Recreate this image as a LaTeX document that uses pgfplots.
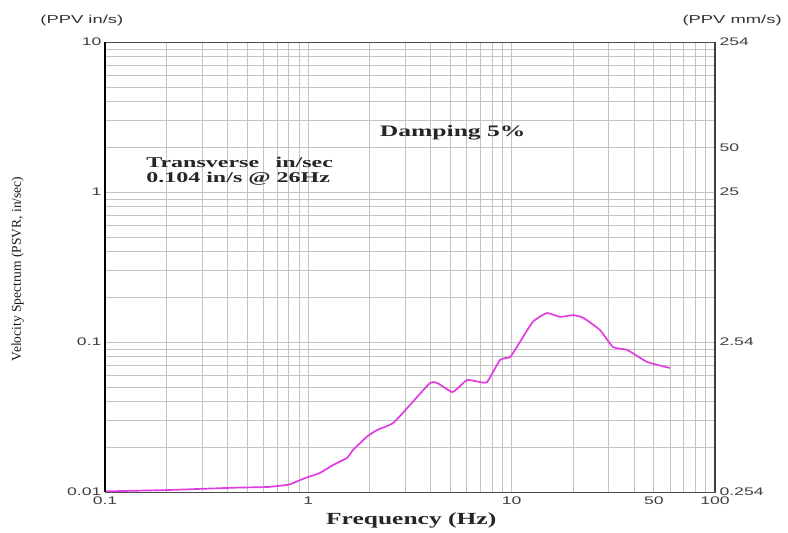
\documentclass[border=0pt]{standalone}
\usepackage{fontspec}
\usepackage{pgfplots}
\pgfplotsset{compat=1.18}
\setmainfont{Liberation Serif}
\newfontfamily\tsans[FakeStretch=1.6]{Liberation Sans}
\newfontfamily\tserif[FakeStretch=1.6]{Liberation Serif}
\newfontfamily\tserifb[FakeStretch=1.5]{Liberation Serif}
\definecolor{curve}{RGB}{225,60,225}
\definecolor{gridc}{RGB}{195,195,195}

\begin{document}
\begin{tikzpicture}
\begin{axis}[name=main,
    scale only axis, width=610pt, height=450pt,
    xmode=log, ymode=log,
    xmin=0.1, xmax=100, ymin=0.01, ymax=10,
    major tick length=0pt, minor tick length=0pt,
    ticklabel style={font=\tsans\fontsize{11}{13}\selectfont, text=black!75},
    clip=false,
    axis line style={draw=black!70, line width=0.8pt},
    grid=both,
    major grid style={draw=gridc, line width=0.7pt},
    minor grid style={draw=gridc, line width=0.6pt},
    xtick={0.1,1,10,50,100},
    xticklabels={0.1,1,10,50,100},
    minor xtick={0.2,0.3,0.4,0.5,0.6,0.7,0.8,0.9,2,3,4,5,6,7,8,9,20,30,40,60,70,80,90},
    ytick={0.01,0.1,1,10},
    yticklabels={0.01,0.1,1,10},
    minor ytick={0.02,0.03,0.04,0.05,0.06,0.07,0.08,0.09,0.2,0.3,0.4,0.5,0.6,0.7,0.8,0.9,2,3,4,5,6,7,8,9},
    xticklabel style={yshift=-1pt},
  ]
\addplot[curve, line width=1.7pt, smooth, tension=0.3] coordinates {
  (0.1,0.0101) (0.2,0.0103) (0.3,0.0105) (0.45,0.0107) (0.63,0.0108)
  (0.8,0.0112) (0.91,0.0120) (1.0,0.0126) (1.14,0.0134) (1.32,0.0151)
  (1.55,0.0169) (1.66,0.0191) (1.80,0.0212) (1.95,0.0235) (2.18,0.0259)
  (2.61,0.0288) (3.16,0.0380) (3.97,0.0533) (4.30,0.0533) (5.09,0.0464)
  (5.5,0.0500) (6.04,0.0558) (6.8,0.0545) (7.57,0.0541) (8.77,0.0759)
  (9.82,0.0794) (10.6,0.0926) (12.7,0.136) (14.9,0.156) (17.3,0.147)
  (20.0,0.151) (22.5,0.145) (27.2,0.120) (31.5,0.0926) (37.0,0.0885)
  (46.4,0.0736) (60.2,0.0671)
};
\node[font=\tserif\bfseries\fontsize{16}{18}\selectfont, text=black!85]
  at (rel axis cs:0.570,0.798) {Damping 5\%};
\node[font=\tserif\bfseries\fontsize{15}{17}\selectfont, text=black!85, anchor=west]
  at (rel axis cs:0.062,0.733) {Transverse\hspace{1.1em}in/sec};
\node[font=\tserif\bfseries\fontsize{15}{17}\selectfont, text=black!85, anchor=west]
  at (rel axis cs:0.062,0.697) {0.104 in/s @ 26Hz};
\node[font=\tsans\fontsize{11.5}{13}\selectfont, text=black!80]
  at (rel axis cs:-0.038,1.047) {(PPV in/s)};
\node[font=\tsans\fontsize{11.5}{13}\selectfont, text=black!80]
  at (rel axis cs:1.028,1.047) {(PPV mm/s)};
\node[font=\tserifb\bfseries\fontsize{17}{19}\selectfont, text=black!85]
  at (rel axis cs:0.502,-0.064) {Frequency (Hz)};
\node[font=\fontsize{13.5}{15}\selectfont, rotate=90, text=black!90]
  at (rel axis cs:-0.143,0.496) {Velocity Spectrum (PSVR, in/sec)};
\end{axis}
\begin{axis}[
    scale only axis, width=610pt, height=450pt,
    xmode=log, ymode=log,
    xmin=0.1, xmax=100, ymin=0.01, ymax=10,
    major tick length=0pt, minor tick length=0pt,
    ticklabel style={font=\tsans\fontsize{11}{13}\selectfont, text=black!75},
    axis x line=none,
    axis y line*=right,
    axis line style={draw=black!75, line width=1.4pt},
    ytick={0.01,0.1,1,1.9685,10},
    yticklabels={0.254,2.54,25,50,254},
    minor ytick={},
    yticklabel style={xshift=1pt},
  ]
\addplot[draw=none] coordinates {(1,1)};
\end{axis}
\draw[black, line width=2.6pt] (main.south west) -- (main.north west);
\pgfresetboundingbox
\path[use as bounding box] ([xshift=-105pt,yshift=-41pt]main.south west)
  rectangle ([xshift=73pt,yshift=42pt]main.north east);
\end{tikzpicture}
\end{document}
